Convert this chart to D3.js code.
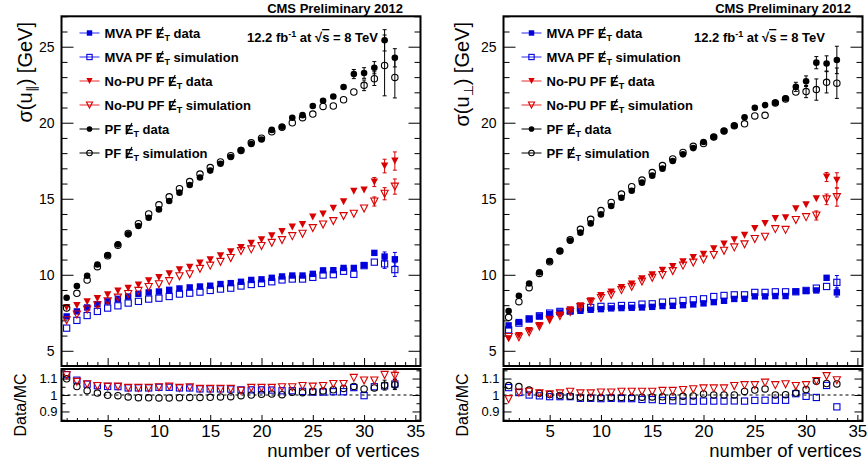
<!DOCTYPE html>
<html>
<head>
<meta charset="utf-8">
<script src="https://cdn.jsdelivr.net/npm/d3@7"></script>
<style>
  body { margin: 0; background: #fff; }
  svg { display: block; font-family: "Liberation Sans", Arial, Helvetica, sans-serif; }
</style>
</head>
<body>
<div id="chart"></div>
<script>
// number of vertices (x)
const vertices = [1,2,3,4,5,6,7,8,9,10,11,12,13,14,15,16,17,18,19,20,21,22,23,24,25,26,27,28,29,30,31,32,33];
// error bars are only given for the last vertices, the others are hidden by the markers
const errVertices = [26,27,28,29,30,31,32,33];

// ---- sigma(u_parallel) [GeV]
const parMvaData  = [7.26,7.59,7.85,8.07,8.25,8.42,8.57,8.75,8.84,8.9,9.01,9.1,9.17,9.23,9.28,9.39,9.45,9.54,9.66,9.7,9.8,9.89,9.95,9.95,10.06,10.29,10.3,10.45,10.45,10.64,11.44,11.2,11.02];
const parMvaSim   = [6.49,7.0,7.32,7.59,7.81,7.96,8.14,8.25,8.4,8.46,8.57,8.73,8.79,8.86,8.97,9.06,9.12,9.26,9.36,9.43,9.54,9.66,9.72,9.72,9.83,9.98,10.01,10.23,10.03,10.6,10.83,10.72,10.34];
const parNoPuData = [7.85,7.98,8.22,8.44,8.68,8.93,9.12,9.32,9.6,9.82,10.07,10.33,10.5,10.77,10.99,11.25,11.51,11.8,12.08,12.3,12.57,12.85,13.15,13.3,13.8,14.0,14.37,14.8,15.5,15.58,16.1,17.15,17.48];
const parNoPuSim  = [7.01,7.39,7.72,8.0,8.26,8.5,8.74,8.94,9.2,9.38,9.58,9.9,10.03,10.39,10.6,10.85,11.1,11.56,11.67,11.89,12.1,12.28,12.54,12.7,13.07,13.31,13.53,13.86,14.01,14.36,14.82,15.33,15.8];
const parPfData   = [8.49,9.26,9.94,10.68,11.3,12.0,12.66,13.21,13.75,14.3,14.85,15.4,15.9,16.4,16.85,17.3,17.75,18.2,18.6,18.9,19.53,19.74,20.33,20.5,21.1,21.45,21.73,22.35,23.2,23.27,23.62,25.42,24.27];
const parPfSim    = [7.81,8.78,9.65,10.53,11.25,11.95,12.72,13.36,14.0,14.6,15.13,15.66,16.13,16.62,17.05,17.42,17.83,18.18,18.68,18.98,19.4,19.7,20.0,20.33,20.57,21.07,21.1,21.51,22.02,22.46,22.9,23.77,22.98];
const parMvaDataErr  = [0.06,0.08,0.1,0.12,0.15,0.2,0.3,0.45];
const parMvaSimErr   = [0.06,0.08,0.1,0.12,0.15,0.25,0.3,0.45];
const parNoPuDataErr = [0.08,0.1,0.12,0.15,0.2,0.3,0.45,0.6];
const parNoPuSimErr  = [0.08,0.1,0.12,0.15,0.2,0.3,0.4,0.5];
const parPfDataErr   = [0.1,0.15,0.2,0.3,0.35,0.4,0.7,0.6];
const parPfSimErr    = [0.12,0.15,0.2,0.25,0.35,0.45,2.0,1.35];
// Data/MC
const parMvaRatio  = [1.124,1.09,1.066,1.057,1.052,1.051,1.043,1.043,1.043,1.047,1.047,1.043,1.043,1.037,1.037,1.037,1.036,1.031,1.031,1.031,1.03,1.026,1.026,1.022,1.018,1.018,1.02,1.02,1.045,0.996,1.05,1.055,1.067];
const parNoPuRatio = [1.12,1.08,1.065,1.055,1.051,1.051,1.043,1.043,1.043,1.047,1.051,1.043,1.047,1.037,1.037,1.037,1.037,1.026,1.043,1.043,1.043,1.047,1.047,1.055,1.051,1.055,1.067,1.067,1.104,1.088,1.088,1.122,1.116];
const parPfRatio   = [1.098,1.051,1.026,1.012,0.998,0.996,0.988,0.984,0.983,0.982,0.982,0.984,0.985,0.985,0.986,0.988,0.99,0.996,1.0,1.004,1.006,1.002,1.017,1.014,1.022,1.025,1.032,1.04,1.052,1.037,1.043,1.06,1.063];
const parMvaRatioErr  = [0.005,0.006,0.008,0.01,0.012,0.015,0.025,0.03];
const parNoPuRatioErr = [0.005,0.006,0.008,0.01,0.012,0.015,0.025,0.03];
const parPfRatioErr   = [0.005,0.006,0.008,0.01,0.012,0.015,0.03,0.03];

// ---- sigma(u_perp) [GeV]
const perpMvaData  = [6.67,6.89,7.08,7.26,7.41,7.52,7.59,7.63,7.7,7.74,7.79,7.81,7.83,7.85,7.89,7.94,7.96,8.0,8.05,8.12,8.2,8.29,8.41,8.42,8.58,8.58,8.6,8.6,8.9,8.93,8.97,9.8,8.84];
const perpMvaSim   = [6.38,6.82,7.1,7.3,7.48,7.59,7.63,7.81,7.85,7.92,7.92,7.98,7.98,8.07,8.09,8.2,8.25,8.31,8.36,8.42,8.57,8.64,8.68,8.68,8.84,8.84,8.88,8.88,8.88,8.97,9.12,9.23,9.5];
const perpNoPuData = [5.79,6.01,6.34,6.67,7.04,7.35,7.7,7.96,8.29,8.64,8.86,9.17,9.39,9.74,10.0,10.29,10.55,10.85,11.14,11.35,11.71,12.02,12.31,12.6,13.05,13.38,13.7,13.75,14.35,14.6,15.0,16.43,16.21];
const perpNoPuSim  = [5.91,5.89,6.22,6.6,7.04,7.28,7.55,7.88,8.21,8.47,8.69,8.99,9.21,9.55,9.8,9.99,10.24,10.6,10.8,11.0,11.3,11.58,11.8,12.0,12.35,12.5,13.0,12.95,13.6,13.79,13.9,14.96,15.11];
const perpPfData   = [7.61,8.62,9.43,10.16,10.9,11.56,12.24,12.77,13.38,13.97,14.52,15.07,15.53,16.06,16.52,16.98,17.48,17.92,18.33,18.73,19.06,19.45,19.8,20.36,20.99,21.16,21.32,21.6,22.36,22.73,23.95,23.9,24.13];
const perpPfSim    = [7.2,8.23,9.15,10.09,10.85,11.56,12.3,12.99,13.65,14.22,14.76,15.31,15.79,16.23,16.72,17.18,17.62,18.05,18.45,18.63,19.06,19.45,19.8,19.93,20.45,20.49,21.3,21.56,22.02,22.05,22.18,22.66,22.6];
const perpMvaDataErr  = [0.05,0.06,0.08,0.1,0.12,0.15,0.25,0.3];
const perpMvaSimErr   = [0.05,0.06,0.08,0.1,0.12,0.15,0.25,0.45];
const perpNoPuDataErr = [0.08,0.1,0.12,0.15,0.2,0.25,0.3,0.5];
const perpNoPuSimErr  = [0.08,0.1,0.12,0.15,0.2,0.3,0.35,0.6];
const perpPfDataErr   = [0.12,0.15,0.2,0.3,0.35,0.4,0.5,0.9];
const perpPfSimErr    = [0.12,0.15,0.2,0.25,0.4,0.7,0.7,1.0];
const perpMvaRatio  = [1.045,1.015,1.0,0.995,0.99,0.99,0.99,0.98,0.98,0.978,0.98,0.978,0.978,0.973,0.972,0.967,0.965,0.962,0.962,0.963,0.963,0.963,0.964,0.963,0.967,0.968,0.968,0.968,1.008,0.992,0.985,1.058,0.928];
const perpNoPuRatio = [0.975,1.015,1.02,1.01,1.005,1.01,1.02,1.01,1.01,1.015,1.015,1.02,1.02,1.02,1.02,1.025,1.025,1.03,1.035,1.04,1.04,1.04,1.055,1.06,1.06,1.075,1.06,1.065,1.055,1.06,1.085,1.115,1.09];
const perpPfRatio   = [1.057,1.051,1.03,1.01,1.003,0.997,0.993,0.986,0.985,0.985,0.985,0.985,0.985,0.987,0.988,0.989,0.99,0.992,0.994,1.006,1.0,1.0,1.0,1.022,1.03,1.037,1.0,1.002,1.012,1.033,1.083,1.07,1.067];
const perpMvaRatioErr  = [0.005,0.006,0.008,0.01,0.012,0.015,0.02,0.025];
const perpNoPuRatioErr = [0.005,0.006,0.008,0.01,0.012,0.015,0.02,0.025];
const perpPfRatioErr   = [0.005,0.006,0.008,0.01,0.012,0.015,0.02,0.025];

const legendLabels = [
    ["MVA PF ", " data"], ["MVA PF ", " simulation"],
    ["No-PU PF ", " data"], ["No-PU PF ", " simulation"],
    ["PF ", " data"], ["PF ", " simulation"]
];
const xTicks = [5,10,15,20,25,30,35];
const yTicks = [5,10,15,20,25];
const ratioTicks = [0.9,1,1.1];

const width = 868, height = 466;
const blue = "#0000dd", red = "#d80000", black = "#000";

const svg = d3.select("#chart").append("svg")
    .attr("width", width)
    .attr("height", height);

const mainTop = 16.3, mainBottom = 366, ratioTop = 369, ratioBottom = 421;

function marker(g, type, cx, cy, color, s) {
    s = s || 1;
    if (type === "cirF") {
        g.append("circle").attr("cx", cx).attr("cy", cy).attr("r", 3.3 * s).attr("fill", color);
    } else if (type === "cirO") {
        g.append("circle").attr("cx", cx).attr("cy", cy).attr("r", 3.2 * s)
            .attr("fill", "none").attr("stroke", color).attr("stroke-width", 1.1);
    } else if (type === "sqF") {
        const h = 3.2 * s;
        g.append("rect").attr("x", cx - h).attr("y", cy - h).attr("width", 2 * h).attr("height", 2 * h).attr("fill", color);
    } else if (type === "sqO") {
        const h = 3.1 * s;
        g.append("rect").attr("x", cx - h).attr("y", cy - h).attr("width", 2 * h).attr("height", 2 * h)
            .attr("fill", "none").attr("stroke", color).attr("stroke-width", 1.1);
    } else {
        const w = (type === "triF" ? 3.7 : 3.6) * s, h = 3.5 * s;
        const p = `M${cx - w},${cy - h}L${cx + w},${cy - h}L${cx},${cy + h}Z`;
        const t = g.append("path").attr("d", p);
        if (type === "triF") t.attr("fill", color);
        else t.attr("fill", "none").attr("stroke", color).attr("stroke-width", 1.1);
    }
}

function drawSeries(g, x, y, values, errs, type, color) {
    const errG = g.append("g");
    errVertices.forEach((v, i) => {
        const val = values[vertices.indexOf(v)];
        const y1 = y(val - errs[i]), y2 = y(val + errs[i]);
        if (y1 - y2 < 9) return;
        const cx = x(v);
        errG.append("line").attr("x1", cx).attr("x2", cx).attr("y1", y1).attr("y2", y2)
            .attr("stroke", color).attr("stroke-width", 1);
        [y1, y2].forEach(yy => errG.append("line").attr("x1", cx - 2).attr("x2", cx + 2)
            .attr("y1", yy).attr("y2", yy).attr("stroke", color).attr("stroke-width", 1));
    });
    vertices.forEach((v, i) => marker(g, type, x(v), y(values[i]), color));
}

// legend text with the missing-ET symbol: E with a slash and a subscript T
function metText(g, x, y, pre, post) {
    const t = g.append("text").attr("x", x).attr("y", y)
        .attr("font-size", 13).attr("font-weight", "bold");
    t.append("tspan").text(pre + "E");
    t.append("tspan").attr("dy", 3).attr("font-size", 9).text("T");
    t.append("tspan").attr("dy", -3).text(post);
    const box = t.node().getExtentOfChar(pre.length);
    g.append("line")
        .attr("x1", box.x + 1.5).attr("y1", y + 1)
        .attr("x2", box.x + box.width - 1.5).attr("y2", y - 10.5)
        .attr("stroke", "#000").attr("stroke-width", 1.2);
}

function styleAxis(a, size) {
    a.select(".domain").remove();
    a.selectAll("line").attr("stroke", "#000");
    a.selectAll("text").attr("font-family", "Liberation Sans, Arial, sans-serif")
        .attr("font-size", size).attr("fill", "#000");
}

function drawPanel(p) {
    const g = svg.append("g");
    const x = d3.scaleLinear().domain([0.5, 35.5]).range([p.x0, p.x1]);
    const y = d3.scaleLinear().domain([4, 27]).range([mainBottom, mainTop]);
    const yr = d3.scaleLinear().domain([0.842, 1.158]).range([ratioBottom, ratioTop]);

    const yMinor = d3.range(4, 28).filter(d => d % 5 !== 0);
    const xMinor = d3.range(1, 36).filter(d => d % 5 !== 0);

    // main axes
    styleAxis(g.append("g").attr("transform", `translate(${p.x0},0)`)
        .call(d3.axisLeft(y).tickValues(yTicks).tickSizeInner(-12).tickSizeOuter(0).tickPadding(7)), 14);
    styleAxis(g.append("g").attr("transform", `translate(${p.x0},0)`)
        .call(d3.axisLeft(y).tickValues(yMinor).tickSizeInner(-6).tickSizeOuter(0).tickFormat("")), 14);
    styleAxis(g.append("g").attr("transform", `translate(${p.x1},0)`)
        .call(d3.axisRight(y).tickValues(yTicks).tickSizeInner(-12).tickSizeOuter(0).tickFormat("")), 14);
    styleAxis(g.append("g").attr("transform", `translate(${p.x1},0)`)
        .call(d3.axisRight(y).tickValues(yMinor).tickSizeInner(-6).tickSizeOuter(0).tickFormat("")), 14);
    styleAxis(g.append("g").attr("transform", `translate(0,${mainBottom})`)
        .call(d3.axisBottom(x).tickValues(xTicks).tickSizeInner(-8).tickSizeOuter(0).tickFormat("")), 14);
    styleAxis(g.append("g").attr("transform", `translate(0,${mainBottom})`)
        .call(d3.axisBottom(x).tickValues(xMinor).tickSizeInner(-4).tickSizeOuter(0).tickFormat("")), 14);

    // ratio axes
    styleAxis(g.append("g").attr("transform", `translate(${p.x0},0)`)
        .call(d3.axisLeft(yr).tickValues(ratioTicks).tickSizeInner(-8).tickSizeOuter(0).tickPadding(4)
            .tickFormat(d => d === 1 ? "1" : d3.format(".1f")(d))), 13);
    styleAxis(g.append("g").attr("transform", `translate(${p.x0},0)`)
        .call(d3.axisLeft(yr).tickValues([0.85, 0.95, 1.05, 1.15]).tickSizeInner(-4).tickSizeOuter(0).tickFormat("")), 13);
    styleAxis(g.append("g").attr("transform", `translate(${p.x1},0)`)
        .call(d3.axisRight(yr).tickValues(ratioTicks).tickSizeInner(-8).tickSizeOuter(0).tickFormat("")), 13);
    styleAxis(g.append("g").attr("transform", `translate(${p.x1},0)`)
        .call(d3.axisRight(yr).tickValues([0.85, 0.95, 1.05, 1.15]).tickSizeInner(-4).tickSizeOuter(0).tickFormat("")), 13);
    styleAxis(g.append("g").attr("transform", `translate(0,${ratioBottom})`)
        .call(d3.axisBottom(x).tickValues(xTicks).tickSizeInner(-6).tickSizeOuter(0).tickPadding(4)), 17);
    styleAxis(g.append("g").attr("transform", `translate(0,${ratioBottom})`)
        .call(d3.axisBottom(x).tickValues(xMinor).tickSizeInner(-3).tickSizeOuter(0).tickFormat("")), 17);

    // dashed line at 1
    g.append("line").attr("x1", p.x0).attr("x2", p.x1).attr("y1", yr(1)).attr("y2", yr(1))
        .attr("stroke", "#000").attr("stroke-width", 1).attr("stroke-dasharray", "3,3");

    // main series
    const m = g.append("g");
    drawSeries(m, x, y, p.mvaData, p.mvaDataErr, "sqF", blue);
    drawSeries(m, x, y, p.mvaSim, p.mvaSimErr, "sqO", blue);
    drawSeries(m, x, y, p.noPuData, p.noPuDataErr, "triF", red);
    drawSeries(m, x, y, p.noPuSim, p.noPuSimErr, "triO", red);
    drawSeries(m, x, y, p.pfData, p.pfDataErr, "cirF", black);
    drawSeries(m, x, y, p.pfSim, p.pfSimErr, "cirO", black);

    // ratio series
    const r = g.append("g");
    drawSeries(r, x, yr, p.mvaRatio, p.mvaRatioErr, "sqO", blue);
    drawSeries(r, x, yr, p.pfRatio, p.pfRatioErr, "cirO", black);
    drawSeries(r, x, yr, p.noPuRatio, p.noPuRatioErr, "triO", red);

    // frames
    g.append("rect").attr("x", p.x0).attr("y", mainTop).attr("width", p.x1 - p.x0).attr("height", mainBottom - mainTop)
        .attr("fill", "none").attr("stroke", "#000").attr("stroke-width", 2);
    g.append("rect").attr("x", p.x0).attr("y", ratioTop).attr("width", p.x1 - p.x0).attr("height", ratioBottom - ratioTop)
        .attr("fill", "none").attr("stroke", "#000").attr("stroke-width", 2);

    // legend
    const legendTypes = [["sqF", blue, "#7070ff"], ["sqO", blue, "#7070ff"], ["triF", red, "#f07070"],
                         ["triO", red, "#f07070"], ["cirF", black, "#555"], ["cirO", black, "#555"]];
    legendLabels.forEach((lab, i) => {
        const cy = 33 + i * 24;
        g.append("line").attr("x1", p.x0 + 18).attr("x2", p.x0 + 38).attr("y1", cy).attr("y2", cy)
            .attr("stroke", legendTypes[i][2]).attr("stroke-width", 1.5);
        marker(g, legendTypes[i][0], p.x0 + 28, cy, legendTypes[i][1], 0.85);
        metText(g, p.x0 + 43, cy + 4.5, lab[0], lab[1]);
    });

    // header texts
    g.append("text").attr("x", p.cmsX).attr("y", 13).attr("text-anchor", "end")
        .attr("font-size", 13).attr("font-weight", "bold").text("CMS Preliminary 2012");
    const lumi = g.append("text").attr("x", p.lumiX).attr("y", 42)
        .attr("font-size", 13).attr("font-weight", "bold");
    lumi.append("tspan").text("12.2 fb");
    lumi.append("tspan").attr("dy", -5).attr("font-size", 9).text("-1");
    lumi.append("tspan").attr("dy", 5).text(" at \u221A");
    lumi.append("tspan").attr("text-decoration", "overline").text("s");
    lumi.append("tspan").text(" = 8 TeV");

    // axis titles
    const yt = g.append("text")
        .attr("transform", `translate(${p.yTitleX},22) rotate(-90)`)
        .attr("text-anchor", "end").attr("font-size", 20);
    yt.append("tspan").text("\u03C3(u");
    yt.append("tspan").attr("dy", 4).attr("font-size", 13).text(p.sub);
    yt.append("tspan").attr("dy", -4).text(") [GeV]");

    g.append("text")
        .attr("transform", `translate(${p.ratioTitleX},405) rotate(-90)`)
        .attr("text-anchor", "middle").attr("font-size", 16).text("Data/MC");

    g.append("text").attr("x", p.x1 - 1).attr("y", 457).attr("text-anchor", "end")
        .attr("font-size", 18.5).text("number of vertices");
}

drawPanel({
    x0: 61.5, x1: 420.5, cmsX: 403, lumiX: 247, yTitleX: 32, ratioTitleX: 26, sub: "\u2225",
    mvaData: parMvaData, mvaSim: parMvaSim, noPuData: parNoPuData, noPuSim: parNoPuSim,
    pfData: parPfData, pfSim: parPfSim,
    mvaDataErr: parMvaDataErr, mvaSimErr: parMvaSimErr, noPuDataErr: parNoPuDataErr,
    noPuSimErr: parNoPuSimErr, pfDataErr: parPfDataErr, pfSimErr: parPfSimErr,
    mvaRatio: parMvaRatio, noPuRatio: parNoPuRatio, pfRatio: parPfRatio,
    mvaRatioErr: parMvaRatioErr, noPuRatioErr: parNoPuRatioErr, pfRatioErr: parPfRatioErr
});

drawPanel({
    x0: 503.5, x1: 862.5, cmsX: 851, lumiX: 694, yTitleX: 469, ratioTitleX: 468, sub: "\u22A5",
    mvaData: perpMvaData, mvaSim: perpMvaSim, noPuData: perpNoPuData, noPuSim: perpNoPuSim,
    pfData: perpPfData, pfSim: perpPfSim,
    mvaDataErr: perpMvaDataErr, mvaSimErr: perpMvaSimErr, noPuDataErr: perpNoPuDataErr,
    noPuSimErr: perpNoPuSimErr, pfDataErr: perpPfDataErr, pfSimErr: perpPfSimErr,
    mvaRatio: perpMvaRatio, noPuRatio: perpNoPuRatio, pfRatio: perpPfRatio,
    mvaRatioErr: perpMvaRatioErr, noPuRatioErr: perpNoPuRatioErr, pfRatioErr: perpPfRatioErr
});
</script>
</body>
</html>
